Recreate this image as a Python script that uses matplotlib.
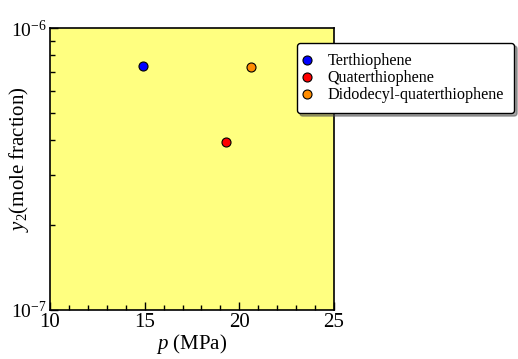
import matplotlib
matplotlib.use("Agg")
import matplotlib.pyplot as plt
from matplotlib.ticker import MultipleLocator, LogLocator, NullFormatter

plt.rcParams['font.family'] = ['Liberation Serif', 'DejaVu Serif']
plt.rcParams['mathtext.fontset'] = 'custom'
plt.rcParams['mathtext.rm'] = 'Liberation Serif'
plt.rcParams['mathtext.it'] = 'Liberation Serif:italic'

names = ['Terthiophene', 'Quaterthiophene', 'Didodecyl-quaterthiophene']
pressure = [14.9, 19.3, 20.6]
y2 = [7.33e-7, 3.94e-7, 7.27e-7]
colors = ['#0000ff', '#ff0000', '#ff8c00']

fig = plt.figure(figsize=(5.18, 3.59), dpi=100)
ax = fig.add_axes([0.0965, 0.1365, 0.5483, 0.7855])
ax.set_facecolor('#ffff80')

for n, x, y, c in zip(names, pressure, y2, colors):
    ax.plot([x], [y], 'o', color=c, markeredgecolor='black',
            markeredgewidth=0.8, markersize=6.5, label=n, linestyle='none')

ax.set_yscale('log')
ax.set_xlim(10, 25)
ax.set_ylim(1e-7, 1e-6)
ax.xaxis.set_major_locator(MultipleLocator(5))
ax.xaxis.set_minor_locator(MultipleLocator(1))
ax.yaxis.set_major_locator(LogLocator(base=10))
ax.yaxis.set_minor_locator(LogLocator(base=10, subs=range(2, 10)))
ax.yaxis.set_minor_formatter(NullFormatter())
ax.tick_params(which='both', direction='in', pad=2)
ax.tick_params(axis='x', labelsize=15)
ax.tick_params(axis='y', labelsize=14)
ax.tick_params(which='major', length=6, width=1)
ax.tick_params(which='minor', length=3.5, width=1)
for s in ax.spines.values():
    s.set_linewidth(1.2)

ax.set_xlabel('$p$ (MPa)', fontsize=15, labelpad=0)
ax.set_ylabel('$y_2$(mole fraction)', fontsize=15)
ax.yaxis.set_label_coords(-0.068, 0.535)

leg = ax.legend(loc='upper left', bbox_to_anchor=(0.5734, 0.880),
                bbox_transform=fig.transFigure, fontsize=11.6, frameon=True,
                shadow=True, fancybox=True, handletextpad=1.28,
                labelspacing=0.06, borderpad=0.63, handlelength=0,
                borderaxespad=0)
leg.get_frame().set_edgecolor('black')
leg.get_frame().set_linewidth(1)

fig.savefig('out.png', dpi=100)
